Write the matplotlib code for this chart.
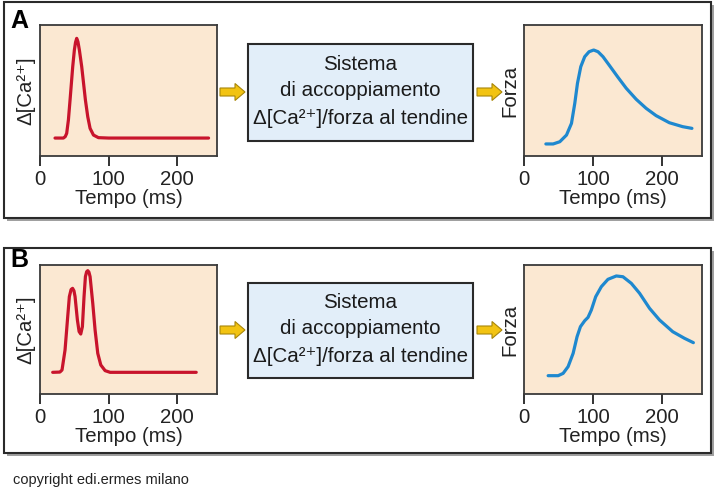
import matplotlib
matplotlib.use('Agg')
import matplotlib.pyplot as plt
from matplotlib.patches import Rectangle, FancyArrow

plt.rcParams['font.family'] = ['Liberation Sans', 'DejaVu Sans']

# ---------------- data (time in ms, signal in relative units 0..1) ----------------
TICKS = [0, 100, 200]
TICK_LABELS = ['0', '100', '200']
X_LABEL = 'Tempo (ms)'
CA_LABEL = 'Δ[Ca²⁺]'
FORCE_LABEL = 'Forza'
BOX_LINES = ['Sistema', 'di accoppiamento', 'Δ[Ca²⁺]/forza al tendine']
PANEL_LETTERS = ['A', 'B']
COPYRIGHT = 'copyright edi.ermes milano'

# Panel A - calcium transient (single twitch)
ca_a_t = [21.9, 34.1, 36.8, 38.9, 41.4, 43.8, 47.7, 50.1, 51.8, 53.5, 55.3, 57.4, 60.8,
          66.2, 69.6, 73.0, 77.9, 85.2, 100.0, 245.7]
ca_a_v = [0.137, 0.137, 0.148, 0.173, 0.275, 0.427, 0.682, 0.809, 0.868, 0.898, 0.872, 0.809, 0.682,
          0.427, 0.300, 0.211, 0.160, 0.140, 0.137, 0.137]

# Panel A - force
f_a_t = [31.7, 42.3, 51.9, 61.6, 68.8, 73.6, 77.5, 82.3, 88.0, 94.3, 101.0, 107.3,
         114.5, 124.1, 136.2, 148.2, 162.6, 177.0, 191.5, 210.7, 229.9, 243.4]
f_a_v = [0.092, 0.092, 0.109, 0.160, 0.249, 0.402, 0.555, 0.682, 0.758, 0.796, 0.809, 0.796,
         0.758, 0.689, 0.601, 0.517, 0.433, 0.364, 0.308, 0.254, 0.224, 0.211]

# Panel B - calcium transient (doublet)
ca_b_t = [18.5, 29.0, 32.1, 36.5, 40.4, 42.8, 45.3, 47.5, 49.5, 51.1, 54.5, 57.0, 59.4, 61.8,
          64.2, 66.2, 68.0, 69.6, 71.3, 73.0, 76.9, 80.3, 84.2, 88.6, 94.9, 102.2, 227.7]
ca_b_v = [0.168, 0.170, 0.186, 0.341, 0.600, 0.755, 0.810, 0.819, 0.800, 0.755, 0.574, 0.484, 0.465, 0.522,
          0.755, 0.910, 0.948, 0.956, 0.945, 0.910, 0.703, 0.496, 0.315, 0.225, 0.181, 0.168, 0.168]

# Panel B - force
f_b_t = [35.0, 49.5, 56.7, 63.9, 71.2, 76.9, 81.8, 88.0, 92.8, 97.6, 103.9, 112.1,
         121.7, 133.8, 143.4, 155.5, 167.5, 182.0, 196.4, 215.6, 232.5, 245.5]
f_b_v = [0.142, 0.142, 0.160, 0.212, 0.315, 0.444, 0.522, 0.568, 0.594, 0.651, 0.754, 0.832,
         0.889, 0.915, 0.909, 0.858, 0.781, 0.664, 0.574, 0.483, 0.432, 0.398]

# ---------------- styling ----------------
W, H = 716, 500
RED = '#C8142C'
BLUE = '#1E88CF'
PEACH = '#FBE8D2'
BOXBLUE = '#E2EEF9'
ARROW_FC = '#F2C312'
ARROW_EC = '#A8860A'
DARK = '#2a2a2a'
FS = 14.7

fig = plt.figure(figsize=(W / 100, H / 100), dpi=100)
fig.patch.set_facecolor('white')

ov = fig.add_axes([0, 0, 1, 1])
ov.set_xlim(0, W)
ov.set_ylim(H, 0)
ov.axis('off')


def frame(x0, y0, w, h):
    ov.add_patch(Rectangle((x0 + 3, y0 + 3), w, h, fc='#a0a0a0', ec='none', zorder=1))
    ov.add_patch(Rectangle((x0, y0), w, h, fc='white', ec=DARK, lw=1.5, zorder=2))


def arrow(x0, y, length):
    ov.add_patch(FancyArrow(x0, y, length, 0, width=8, head_width=17, head_length=10,
                            length_includes_head=True, fc=ARROW_FC, ec=ARROW_EC, lw=0.8, zorder=4))


def middle_box(y0, h, line_ys):
    ov.add_patch(Rectangle((248, y0), 225, h, fc=BOXBLUE, ec=DARK, lw=1.5, zorder=3))
    for txt, yy in zip(BOX_LINES, line_ys):
        ov.text(360.5, yy, txt, fontsize=14.8, ha='center', va='center', color='#1a1a1a', zorder=5)


def px_rect(x0, x1, y0, y1):
    return [x0 / W, 1 - y1 / H, (x1 - x0) / W, (y1 - y0) / H]


def plot_panel(rect, t, v, color, ylabel):
    ax = fig.add_axes(rect)
    ax.set_facecolor(PEACH)
    ax.plot(t, v, color=color, lw=2.3, solid_capstyle='round', solid_joinstyle='round')
    ax.set_xlim(0, 258)
    ax.set_ylim(0, 1)
    ax.set_xticks(TICKS)
    ax.set_xticklabels(TICK_LABELS, fontsize=FS)
    ax.set_yticks([])
    ax.tick_params(axis='x', direction='out', length=7, width=1.3, pad=3, colors='#222')
    for s in ax.spines.values():
        s.set_color('#3a3a3a')
        s.set_linewidth(1.3)
    ax.set_xlabel(X_LABEL, fontsize=FS, labelpad=0, color='#222')
    ax.set_ylabel(ylabel, fontsize=FS, labelpad=3, color='#222')
    return ax


# Panel A
frame(4, 2, 707, 216)
ov.text(19, 21, PANEL_LETTERS[0], fontsize=18, fontweight='bold', ha='center', va='center', zorder=5)
middle_box(44, 97, [65, 91, 118])
arrow(220, 92, 25)
arrow(477, 92, 25)

# Panel B
frame(4, 248, 707, 205)
ov.text(19, 260, PANEL_LETTERS[1], fontsize=18, fontweight='bold', ha='center', va='center', zorder=5)
middle_box(283, 95, [303, 329, 356])
arrow(220, 330, 25)
arrow(477, 330, 25)

ov.text(13, 480, COPYRIGHT, fontsize=10.5, ha='left', va='center', color='#222')

plot_panel(px_rect(40, 217, 25, 156), ca_a_t, ca_a_v, RED, CA_LABEL)
plot_panel(px_rect(524, 702, 25, 156), f_a_t, f_a_v, BLUE, FORCE_LABEL)
plot_panel(px_rect(40, 217, 265, 394), ca_b_t, ca_b_v, RED, CA_LABEL)
plot_panel(px_rect(524, 702, 265, 394), f_b_t, f_b_v, BLUE, FORCE_LABEL)

fig.savefig('out.png', dpi=100, facecolor='white')
